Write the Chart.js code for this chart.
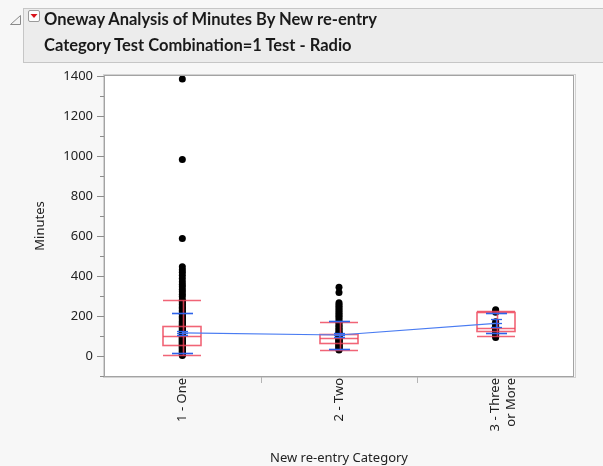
<!DOCTYPE html>
<html>
<head>
<meta charset="utf-8">
<script src="https://cdn.jsdelivr.net/npm/chart.js@4.4.1/dist/chart.umd.min.js"></script>
<style>
  html, body { margin: 0; padding: 0; background: #f7f7f7; }
  #wrap { position: relative; width: 603px; height: 466px; overflow: hidden; }
  #chart { position: absolute; left: 0; top: 0; }
  .hdr {
    position: absolute; left: 23px; top: 8px; width: 600px; height: 55px;
    background: #ececec; border: 1px solid #c6c6c6; box-sizing: border-box;
  }
  .hdr-title {
    position: absolute; left: 44px; top: 6px;
    font: bold 16.5px "Lato", sans-serif; line-height: 26px;
    color: #1a1a1a; white-space: nowrap;
  }
  .icons { position: absolute; left: 0; top: 0; }
</style>
</head>
<body>
<div id="wrap">
  <canvas id="chart" width="603" height="466"></canvas>
  <div class="hdr"></div>
  <svg class="icons" width="45" height="30">
    <polygon points="10.5,24.5 20.5,24.5 20.5,15.5" fill="#f4f4f4" stroke="#8a8a8a" stroke-width="1"/>
    <rect x="28.5" y="10.5" width="11" height="11" rx="1.5" fill="#fdfdfd" stroke="#9a9a9a"/>
    <polygon points="30.5,14 37.5,14 34,18" fill="#d8131b"/>
  </svg>
  <div class="hdr-title">Oneway Analysis of Minutes By New re-entry<br>Category Test Combination=1 Test - Radio</div>
</div>
<script>
// Categories on the x axis
const categories = ['1 - One', '2 - Two', ['3 - Three', 'or More']];

// Minutes recorded in each re-entry category
const minutesOne = [1385, 982, 587, 446, 431, 419, 404, 388, 371, 357, 346, 333, 321, 309, 298,
  281, 274, 266, 259, 250, 243, 236, 228, 221, 213, 207, 199, 192, 186, 180, 174, 169, 163,
  158, 153, 149, 144, 140, 136, 131, 127, 123, 120, 116, 112, 109, 105, 102, 99, 96, 93, 90,
  87, 84, 81, 78, 75, 72, 69, 66, 63, 60, 57, 54, 51, 48, 45, 42, 38, 35, 31, 27, 24, 20, 16,
  13, 9, 6, 3];
const minutesTwo = [344, 317, 266, 257, 249, 240, 231, 222, 214, 205, 197, 189, 178, 169, 161,
  153, 146, 139, 131, 125, 119, 114, 109, 105, 101, 97, 93, 89, 86, 82, 79, 75, 72, 68, 64, 61,
  57, 53, 49, 45, 41, 37, 33, 30];
const minutesThree = [231, 224, 219, 171, 163, 155, 148, 141, 136, 131, 126, 121, 114, 106, 99, 92];

// Summary statistics per category
const groupMean   = [116, 105, 163];
const groupStdDev = [101, 69, 50];
const meanStdErr  = [10, 8, 20];
const boxQ1       = [55, 63, 125];
const boxMedian   = [100, 88, 138];
const boxQ3       = [150, 110, 222];
const whiskerLow  = [5, 30, 100];
const whiskerHigh = [282, 168, 227];

// Y axis ticks
const yTickValues = [0, 200, 400, 600, 800, 1000, 1200, 1400];
const yMinorTickValues = [-100, 100, 300, 500, 700, 900, 1100, 1300];

const BOX_RED = 'rgba(238, 66, 88, 0.82)';
const STAT_BLUE = '#2d63ea';

const pointSets = [minutesOne, minutesTwo, minutesThree];

const boxPlotPlugin = {
  id: 'boxPlot',
  beforeDraw(chart) {
    const { ctx, chartArea: a } = chart;
    ctx.save();
    ctx.fillStyle = '#ffffff';
    ctx.fillRect(a.left, a.top, a.right - a.left, a.bottom - a.top);
    ctx.restore();
  },
  beforeDatasetDraw(chart, args) {
    if (args.index !== 0) return;
    const { ctx } = chart;
    const xs = chart.scales.x, ys = chart.scales.y;
    const line = (x1, y1, x2, y2) => { ctx.beginPath(); ctx.moveTo(x1, y1); ctx.lineTo(x2, y2); ctx.stroke(); };
    ctx.save();
    for (let i = 0; i < categories.length; i++) {
      const x = Math.round(xs.getPixelForValue(i));
      const yp = v => Math.round(ys.getPixelForValue(v)) + 0.5;
      const hw = 19;
      ctx.strokeStyle = BOX_RED;
      ctx.lineWidth = 1.6;
      line(x + 1.5, yp(whiskerLow[i]), x + 1.5, yp(whiskerHigh[i]));
      line(x - hw, yp(whiskerLow[i]), x + hw, yp(whiskerLow[i]));
      line(x - hw, yp(whiskerHigh[i]), x + hw, yp(whiskerHigh[i]));
      ctx.strokeRect(x - hw, yp(boxQ3[i]), hw * 2, yp(boxQ1[i]) - yp(boxQ3[i]));
      line(x - hw, yp(boxMedian[i]), x + hw, yp(boxMedian[i]));

      ctx.strokeStyle = STAT_BLUE;
      ctx.lineWidth = 1.6;
      const sdHi = groupMean[i] + groupStdDev[i], sdLo = groupMean[i] - groupStdDev[i];
      line(x - 10, yp(sdHi), x + 11, yp(sdHi));
      line(x - 10, yp(sdLo), x + 11, yp(sdLo));
      const seHi = groupMean[i] + meanStdErr[i], seLo = groupMean[i] - meanStdErr[i];
      ctx.lineWidth = 1.3;
      line(x - 5, yp(seHi), x + 6, yp(seHi));
      line(x - 5, yp(seLo), x + 6, yp(seLo));
      line(x + 0.5, yp(seLo), x + 0.5, yp(seHi));
      line(x - 5, yp(groupMean[i]), x + 6, yp(groupMean[i]));
    }
    ctx.restore();
  },
  afterDraw(chart) {
    const { ctx, chartArea: a } = chart;
    const xs = chart.scales.x, ys = chart.scales.y;
    ctx.save();
    ctx.lineWidth = 1;
    ctx.strokeStyle = '#d2d2d2';
    ctx.strokeRect(a.left - 0.5, a.top - 1.5, a.right - a.left + 2, a.bottom - a.top + 3);
    ctx.strokeStyle = '#a3a3a3';
    ctx.strokeRect(a.left + 0.5, a.top - 0.5, a.right - a.left - 1, a.bottom - a.top + 1);
    // major and minor ticks on the y axis
    ctx.strokeStyle = '#8c8c8c';
    yTickValues.forEach(v => {
      const y = Math.round(ys.getPixelForValue(v)) + 0.5;
      ctx.beginPath(); ctx.moveTo(a.left - 7, y); ctx.lineTo(a.left, y); ctx.stroke();
    });
    yMinorTickValues.forEach(v => {
      const y = Math.round(ys.getPixelForValue(v)) + 0.5;
      ctx.beginPath(); ctx.moveTo(a.left - 4, y); ctx.lineTo(a.left, y); ctx.stroke();
    });
    // ticks between the categories
    ctx.strokeStyle = '#b4b4b4';
    for (let i = 0; i < categories.length - 1; i++) {
      const x = Math.round(xs.getPixelForValue(i + 0.5)) + 0.5;
      ctx.beginPath(); ctx.moveTo(x, a.bottom + 1); ctx.lineTo(x, a.bottom + 7); ctx.stroke();
    }
    ctx.restore();
  }
};

Chart.defaults.font.family = '"Noto Sans", sans-serif';
Chart.defaults.font.size = 13;
Chart.defaults.color = '#222222';

new Chart(document.getElementById('chart'), {
  type: 'line',
  data: {
    labels: categories,
    datasets: [
      {
        label: 'Mean',
        data: groupMean,
        borderColor: '#4a7cf2',
        borderWidth: 1.2,
        pointRadius: 0,
        tension: 0,
        fill: false,
        order: 0
      },
      ...pointSets.map((vals, i) => ({
        type: 'scatter',
        label: 'Minutes ' + (i + 1),
        parsing: false,
        data: vals.map(v => ({ x: i, y: v })),
        showLine: false,
        pointRadius: 3.5,
        pointBackgroundColor: '#000000',
        pointBorderWidth: 0,
        order: 1
      }))
    ]
  },
  options: {
    responsive: false,
    animation: false,
    devicePixelRatio: 1,
    layout: { padding: { top: 76, right: 29, bottom: 0, left: 0 } },
    plugins: { legend: { display: false }, tooltip: { enabled: false } },
    scales: {
      x: {
        type: 'category',
        offset: true,
        afterFit(s) { s.height = 90; },
        border: { display: false },
        grid: { display: false, drawTicks: false },
        ticks: { minRotation: 90, maxRotation: 90, autoSkip: false, padding: 2, color: '#222' },
        title: { display: true, text: 'New re-entry Category', padding: { top: 0, bottom: 0 }, color: '#222' }
      },
      y: {
        type: 'linear',
        min: -100,
        max: 1400,
        afterFit(s) { s.width = 104; },
        afterBuildTicks(s) { s.ticks = yTickValues.map(v => ({ value: v })); },
        border: { display: false },
        grid: { display: false, drawTicks: false },
        ticks: { padding: 11, color: '#222', callback: v => String(v) },
        title: { display: true, text: 'Minutes', padding: { top: 32, bottom: 0 }, color: '#222' }
      }
    }
  },
  plugins: [boxPlotPlugin]
});
</script>
</body>
</html>
